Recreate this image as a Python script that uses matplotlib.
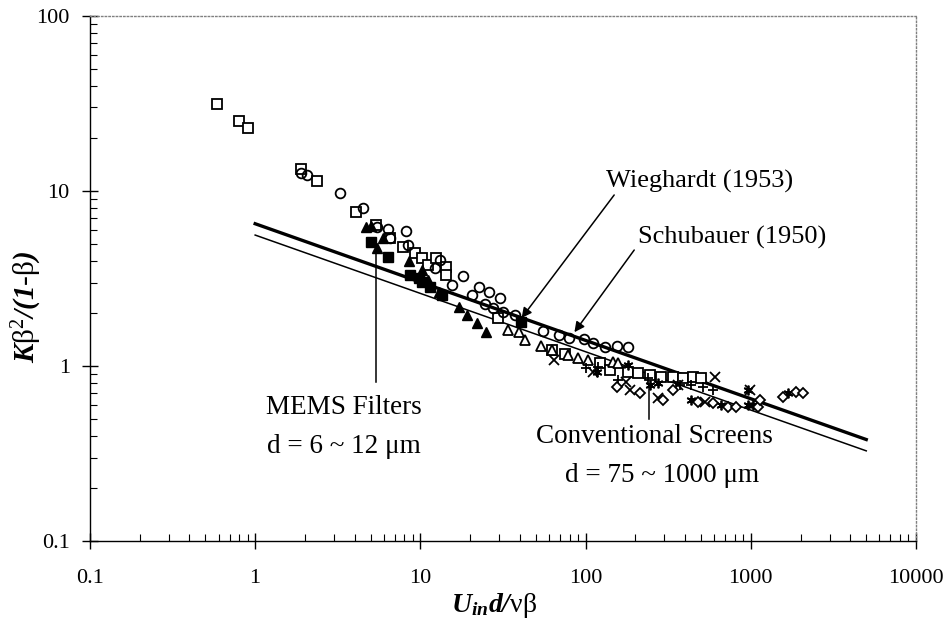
import numpy as np
import matplotlib
matplotlib.use('Agg')
from matplotlib import pyplot as plt

plt.rcParams['font.family'] = ['Liberation Serif', 'DejaVu Serif']
plt.rcParams['mathtext.fontset'] = 'custom'
plt.rcParams['mathtext.rm'] = 'Liberation Serif'
plt.rcParams['mathtext.it'] = 'Liberation Serif:italic'
plt.rcParams['mathtext.bf'] = 'Liberation Serif:bold:italic'

# open squares
sq_open_x = [0.584, 0.80, 0.911, 1.888, 2.38, 4.06, 5.36, 6.51, 7.83, 9.25, 10.24,
             11.2, 12.4, 14.2, 14.2, 29.5, 63.0, 75.2, 122, 140.6, 181, 208, 245,
             288, 339, 390, 448, 502]
sq_open_y = [31.3, 25.1, 23.0, 13.3, 11.45, 7.62, 6.39, 5.37, 4.81, 4.40, 4.12,
             3.78, 4.14, 3.66, 3.31, 1.87, 1.234, 1.17, 1.036, 0.949, 0.928, 0.908, 0.888,
             0.869, 0.869, 0.851, 0.869, 0.851]

# open circles
circ_x = [1.888, 2.05, 3.26, 4.51, 5.48, 6.38, 8.24, 8.43, 6.55, 13.2, 12.3, 18.1,
          15.5, 22.5, 26.1, 30.2, 20.4, 24.5, 27.7, 31.5, 37.5, 55.1, 69.5, 79.5,
          98.4, 111.5, 131, 154, 181]
circ_y = [12.6, 12.3, 9.7, 7.96, 6.25, 6.04, 5.91, 4.91, 5.37, 4.03, 3.62, 3.28,
          2.90, 2.84, 2.64, 2.44, 2.55, 2.26, 2.14, 2.04, 1.96, 1.585, 1.50, 1.44,
          1.42, 1.36, 1.29, 1.30, 1.29]

# MEMS filters, filled triangles
tri_fill_x = [4.66, 5.02, 5.48, 5.93, 8.51, 10.24, 11.2, 12.9, 17.1, 19.1, 22.0, 25.1]
tri_fill_y = [6.25, 6.31, 4.71, 5.39, 3.98, 3.54, 3.10, 2.66, 2.18, 1.96, 1.75, 1.57]

# MEMS filters, filled squares
sq_fill_x = [5.0, 6.38, 8.63, 9.78, 10.3, 11.5, 13.5, 40.8]
sq_fill_y = [5.08, 4.20, 3.31, 3.18, 3.03, 2.84, 2.55, 1.79]

# open triangles
tri_open_x = [33.8, 39.8, 42.7, 53.9, 63.0, 78.6, 89.6, 104, 147, 158]
tri_open_y = [1.61, 1.57, 1.41, 1.30, 1.234, 1.155, 1.107, 1.08, 1.06, 1.036]

# crosses
cross_x = [64.8, 111.5, 176, 186, 275, 363, 527, 605, 985]
cross_y = [1.08, 0.924, 0.813, 0.729, 0.656, 0.779, 0.625, 0.869, 0.729]

# plus signs
plus_x = [101, 119.5, 158, 239, 372, 437, 514, 591]
plus_y = [0.974, 0.991, 0.832, 0.854, 0.779, 0.779, 0.762, 0.729]

# asterisks
star_x = [117, 181, 245, 275, 437, 663, 962, 1031, 962, 1678]
star_y = [0.928, 1.01, 0.779, 0.796, 0.64, 0.598, 0.598, 0.598, 0.729, 0.698]

# diamonds
diam_x = [154, 213, 295, 338, 480, 591, 728, 817, 1105, 1132, 1564, 1883, 2066]
diam_y = [0.762, 0.698, 0.64, 0.729, 0.625, 0.612, 0.585, 0.585, 0.585, 0.64, 0.668,
          0.713, 0.698]

# correlations  K b^2/(1-b) = C * Re^(-1/3)
line_x = np.array([1, 5000])
wieghardt_c = 6.5
schubauer_c = 5.6

fig = plt.figure(figsize=(9.49, 6.22), dpi=100)
ax = fig.add_axes([0.0948, 0.1302, 0.8704, 0.8441])

ax.plot(line_x, wieghardt_c * line_x ** (-1 / 3), color='black', lw=2.4)
ax.plot(line_x, schubauer_c * line_x ** (-1 / 3), color='black', lw=1.1)

ms = 7
mew = 1.3
ax.plot(sq_open_x, sq_open_y, 's', ms=ms, mfc='white', mec='black', mew=mew, ls='none')
ax.plot(circ_x, circ_y, 'o', ms=ms, mfc='none', mec='black', mew=mew, ls='none')
ax.plot(tri_open_x, tri_open_y, '^', ms=ms, mfc='white', mec='black', mew=mew, ls='none')
ax.plot(cross_x, cross_y, 'x', ms=ms, mec='black', mew=mew, ls='none')
ax.plot(plus_x, plus_y, '+', ms=ms, mec='black', mew=mew, ls='none')
ax.plot(star_x, star_y, marker=(6, 2, 0), ms=ms, mec='black', mew=mew, ls='none')
ax.plot(diam_x, diam_y, 'D', ms=5.5, mfc='white', mec='black', mew=mew, ls='none')
ax.plot(tri_fill_x, tri_fill_y, '^', ms=ms, color='black', ls='none')
ax.plot(sq_fill_x, sq_fill_y, 's', ms=ms, color='black', ls='none')

ax.set_xscale('log')
ax.set_yscale('log')
ax.set_xlim(0.1, 10000)
ax.set_ylim(0.1, 100)
ax.set_xticks([0.1, 1, 10, 100, 1000, 10000])
ax.set_xticklabels(['0.1', '1', '10', '100', '1000', '10000'])
ax.set_yticks([0.1, 1, 10, 100])
ax.set_yticklabels(['0.1', '1', '10', '100'])
ax.tick_params(which='major', direction='inout', length=11, width=1, labelsize=16)
ax.tick_params(axis='x', which='major', pad=15)
ax.tick_params(axis='y', which='major', pad=9)
ax.tick_params(which='minor', direction='in', length=5, width=0.8)
ax.tick_params(top=False, right=False, which='both')

for side in ['top', 'right']:
    ax.spines[side].set_linestyle(':')
    ax.spines[side].set_color('gray')
    ax.spines[side].set_linewidth(1)
for side in ['left', 'bottom']:
    ax.spines[side].set_linewidth(1)

ax.set_xlabel(r'$\mathbf{U_{in}d/}$νβ', fontsize=20)
ax.xaxis.set_label_coords(0.489, -0.122)
ax.xaxis.label.set_va('center')
ax.set_ylabel(r'$\mathbf{K}$β$^{2}$$\mathbf{/(1}$-β$\mathbf{)}$', fontsize=21)
ax.yaxis.set_label_coords(-0.076, 0.446)
ax.yaxis.label.set_va('center')

arrow = dict(arrowstyle='-|>', color='black', lw=1.1, mutation_scale=15,
             shrinkA=0, shrinkB=0)
ax.annotate('', xy=(41.0, 1.88), xytext=(149, 9.49), arrowprops=arrow)
ax.text(133.5, 11.3, 'Wieghardt (1953)', fontsize=19, ha='left', va='center')
ax.annotate('', xy=(85.6, 1.56), xytext=(197, 4.60), arrowprops=arrow)
ax.text(208, 5.46, 'Schubauer (1950)', fontsize=19, ha='left', va='center')

ax.plot([5.38, 5.38], [4.72, 0.81], color='black', lw=1.1)
ax.text(3.45, 0.532, 'MEMS Filters', fontsize=19.5, ha='center', va='baseline')
ax.text(3.45, 0.318, 'd = 6 ~ 12 μm', fontsize=19.5, ha='center', va='baseline')

ax.plot([242, 242], [0.779, 0.498], color='black', lw=1.1)
ax.text(260, 0.363, 'Conventional Screens', fontsize=19.5, ha='center', va='baseline')
ax.text(291, 0.217, 'd = 75 ~ 1000 μm', fontsize=19.5, ha='center', va='baseline')

plt.savefig('out.png', dpi=100)
